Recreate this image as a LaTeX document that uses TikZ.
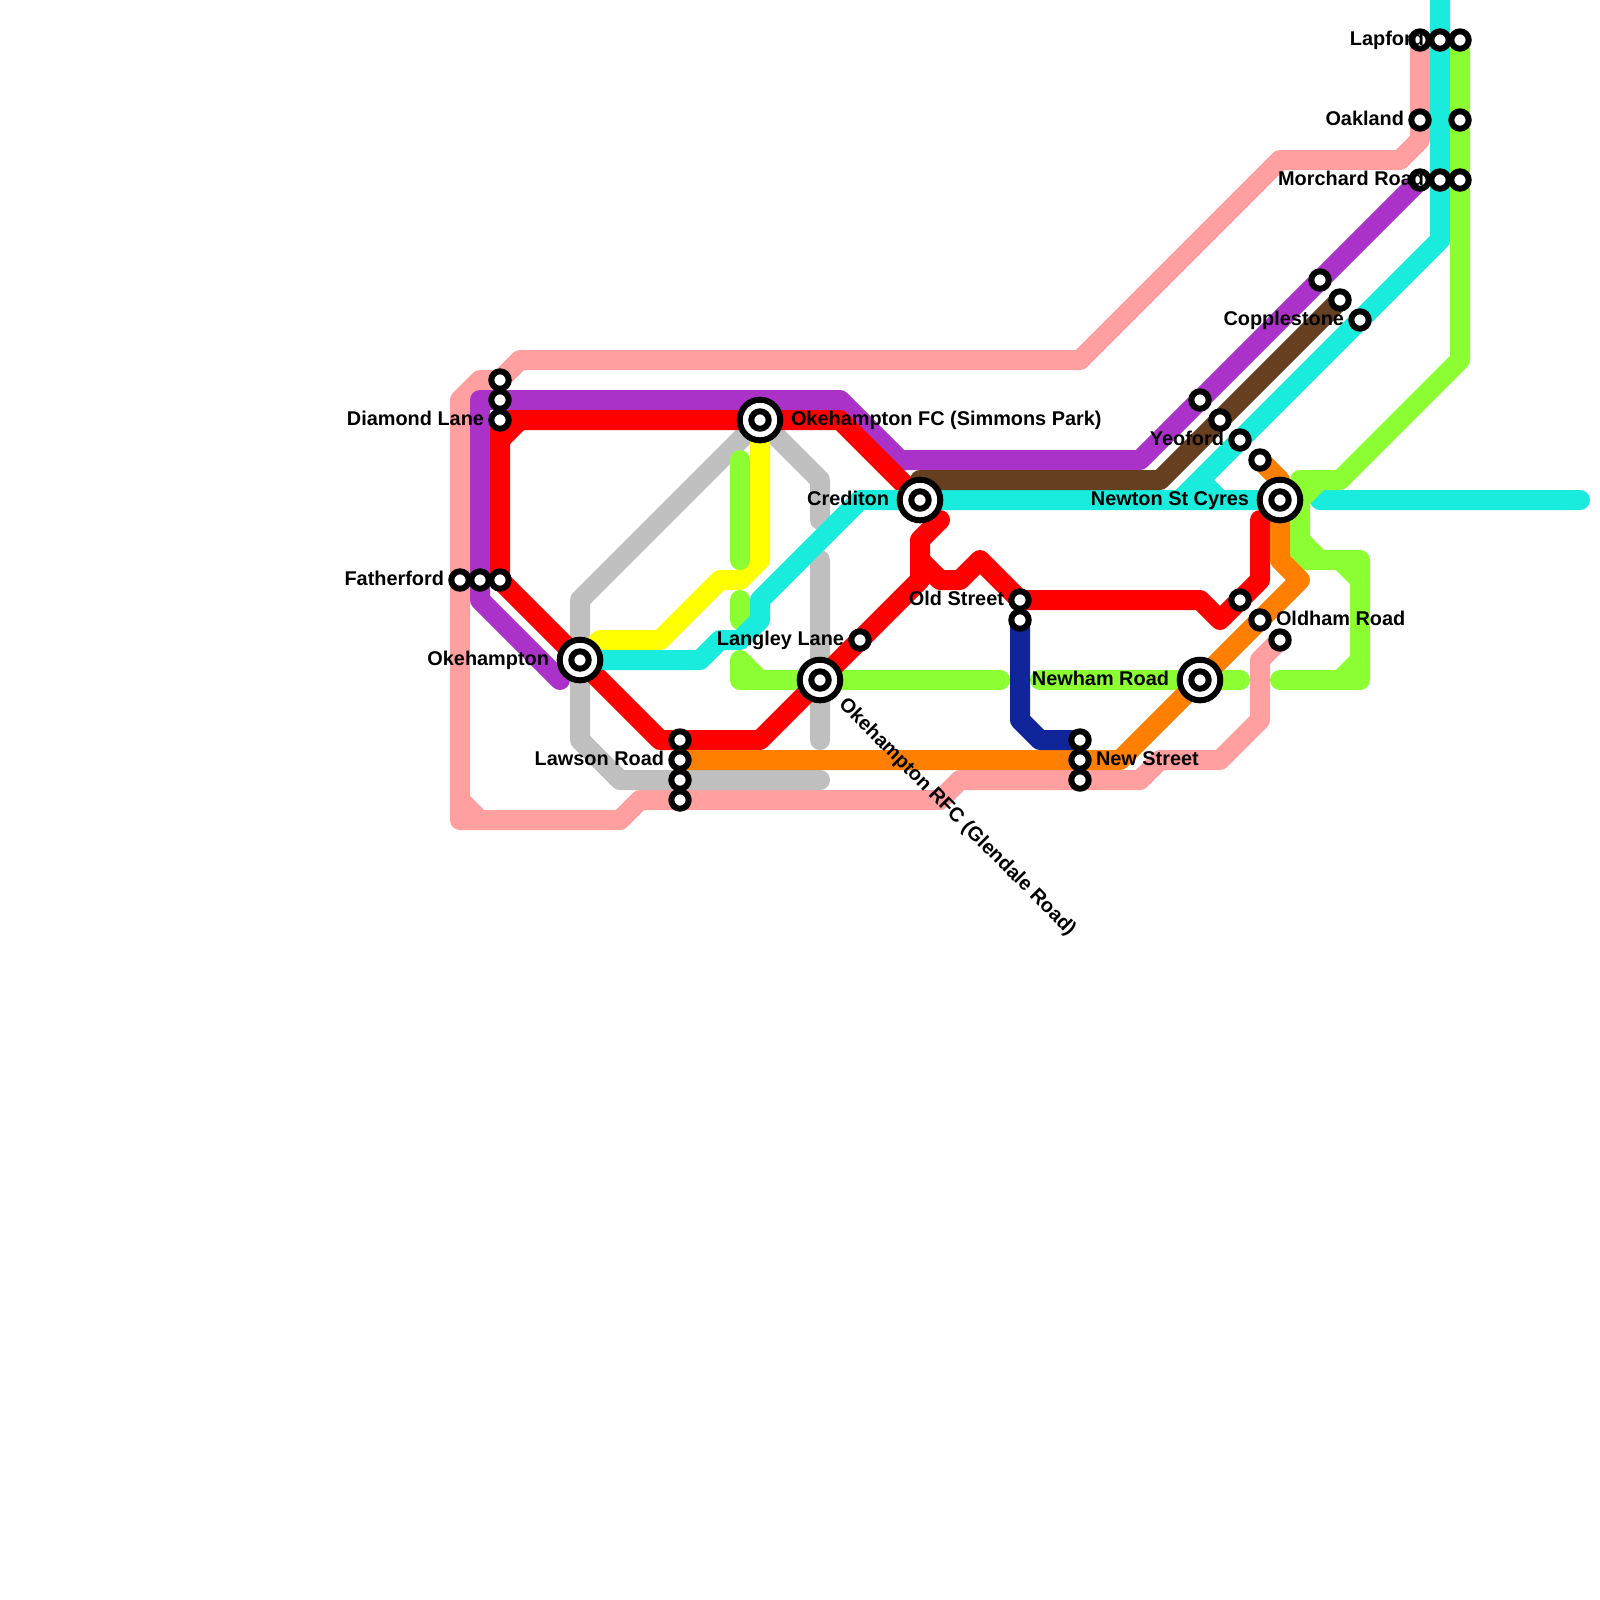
\documentclass[tikz,border=0pt]{standalone}
\usepackage{fontspec}
\setmainfont{Liberation Sans}
\usepackage{xcolor}
\definecolor{railPink}{HTML}{FF9F9F}
\definecolor{railPurple}{HTML}{AB32C8}
\definecolor{railRed}{HTML}{FF0000}
\definecolor{railCyan}{HTML}{19EBDC}
\definecolor{railGreen}{HTML}{8CFF32}
\definecolor{railOrange}{HTML}{FF8000}
\definecolor{railGrey}{HTML}{BFBFBF}
\definecolor{railYellow}{HTML}{FFFF00}
\definecolor{railBrown}{HTML}{663F20}
\definecolor{railBlue}{HTML}{10259A}
\usetikzlibrary{positioning,backgrounds}
\tikzset{
  rail/.style={line width=.2cm,line join=round,line cap=round},
  stn/.style={circle,draw=black,fill=white,line width=.06cm,minimum size=.174cm,inner sep=0pt,outer sep=0pt},
  hub/.style={stn,minimum size=.406cm},
  lbl/.style={font=\fontsize{5.66pt}{6.5pt}\selectfont\bfseries,inner sep=0pt,outer sep=0pt,text height=.11cm,text depth=0pt}
}
\begin{document}
\begin{tikzpicture}[x=.2cm,y=-.2cm]
    \useasboundingbox (0,0) rectangle (80,80);
    % stations
    \foreach \name/\px/\py in {diamondA/25/19,diamondB/25/20,diamond/25/21,
        fatherford/23/29,fatherfordB/24/29,fatherfordC/25/29,
        lawsonA/34/37,lawson/34/38,lawsonC/34/39,lawsonD/34/40,
        langley/43/32,oldstreet/51/30,oldstreetB/51/31,
        newstA/54/37,newstreet/54/38,newstC/54/39,
        yeofordA/60/20,yeofordB/61/21,yeoford/62/22,yeofordD/63/23,
        oldhamA/62/30,oldham/63/31,oldhamC/64/32,
        copplestoneA/66/14,copplestoneB/67/15,copplestone/68/16,
        lapfordA/71/2,lapford/72/2,lapfordC/73/2,
        oakland/71/6,oaklandB/73/6,
        morchardA/71/9,morchard/72/9,morchardC/73/9}
      \node[stn] (\name) at (\px,\py) {};
    \foreach \name/\px/\py in {okehampton/29/33,okefc/38/21,okerfc/41/34,
        crediton/46/25,newham/60/34,newton/64/25} {
      \node[hub] (\name) at (\px,\py) {};
      \node[stn] (\name-in) at (\name) {};
    }
    % lines
    \begin{scope}[on background layer]
      \draw[rail,railPink] (lapfordA.center) -- (71,7) -- (70,8) -- (64,8) -- (54,18) -- (26,18) -- (25,19) -- (24,19)
            -- (23,20) -- (23,41) -- (31,41) -- (32,40) -- (47,40) -- (48,39) -- (57,39) -- (58,38) -- (61,38)
            -- (63,36) -- (63,33) -- (oldhamC.center) (23,40) -- (24,41);
      \draw[rail,railPurple] (morchardA.center) -- (57,23) -- (45,23) -- (42,20) -- (24,20) -- (24,30) -- (28,34);
      \draw[rail,railGrey] (okefc.center) -- (29,30) -- (29,37) -- (31,39) -- (41,39);
      \draw[rail,railGrey] (okefc.center) -- (41,24) -- (41,26) (41,28) -- (41,37);
      \draw[rail,railYellow] (okefc.center) -- (38,28) -- (37,29) -- (36,29) -- (33,32) -- (30,32) -- (okehampton.center);
      \draw[rail,railGreen] (37,23) -- (37,28) (37,30) -- (37,31);
      \draw[rail,railGreen] (37,33) -- (37,34) -- (50,34) (37,33) -- (38,34) (52,34) -- (62,34);
      \draw[rail,railRed] (diamond.center) -- (42,21) -- (crediton.center) (26,21) -- (25,22);
      \draw[rail,railRed] (diamond.center) -- (fatherfordC.center) -- (okehampton.center) -- (33,37) -- (38,37)
            -- (46,29) -- (46,27) -- (47,26);
      \draw[rail,railRed] (46,28) -- (47,29) -- (48,29) -- (49,28) -- (oldstreet.center) -- (60,30) -- (61,31)
            -- (63,29) -- (63,26);
      \draw[rail,railCyan] (okehampton.center) -- (35,33) -- (36,32) -- (37,32) -- (38,31) -- (38,30) -- (43,25)
            -- (newton.center) (66,25) -- (79,25);
      \draw[rail,railCyan] (72,-1) -- (72,12) -- (59,25) (60,24) -- (61,25);
      \draw[rail,railGreen] (lapfordC.center) -- (73,18) -- (67,24) -- (65,24) -- (65,28) -- (68,28) -- (68,34) -- (64,34)
            (65,25) -- (66,24) (65,27) -- (66,28) (67,28) -- (68,29) (68,33) -- (67,34);
      \draw[rail,railBrown] (46,24) -- (58,24) -- (copplestoneB.center);
      \draw[rail,railOrange] (yeofordD.center) -- (64,24) -- (64,28) -- (65,29) -- (56,38) -- (lawson.center);
      \draw[rail,railBlue] (oldstreetB.center) -- (51,36) -- (52,37) -- (newstA.center);
    \end{scope}
    % labels
    \node[lbl,left=.073cm of diamond] (lblDiamond) {Diamond Lane};
    \node[lbl,left=.073cm of fatherford] (lblFatherford) {Fatherford};
    \node[lbl,left=.107cm of okehampton] (lblOkehampton) {Okehampton};
    \node[lbl,right=.107cm of okefc] (lblOkefc) {Okehampton FC (Simmons Park)};
    \node[lbl,left=.107cm of crediton] (lblCrediton) {Crediton};
    \node[lbl,left=.073cm of lawson] (lblLawson) {Lawson Road};
    \node[lbl,left=.073cm of langley] (lblLangley) {Langley Lane};
    \node[lbl,left=.073cm of oldstreet] (lblOldstreet) {Old Street};
    \node[lbl,left=.107cm of newham] (lblNewham) {Newham Road};
    \node[lbl,left=.107cm of newton] (lblNewton) {Newton St Cyres};
    \node[lbl,right=.073cm of newstreet] (lblNewstreet) {New Street};
    \node[lbl,right=.073cm of oldham] (lblOldham) {Oldham Road};
    \node[lbl,left=.073cm of yeoford] (lblYeoford) {Yeoford};
    \node[lbl,left=.073cm of copplestone] (lblCopplestone) {Copplestone};
    \node[lbl,left=.073cm of lapford] (lblLapford) {Lapford};
    \node[lbl,left=.073cm of oakland] (lblOakland) {Oakland};
    \node[lbl,left=.073cm of morchard] (lblMorchard) {Morchard Road};
    \node[lbl,rotate=-45,anchor=west] (lblOkerfc) at ([shift={(.22cm,-.22cm)}]okerfc.center) {Okehampton RFC (Glendale Road)};
\end{tikzpicture}
\end{document}
